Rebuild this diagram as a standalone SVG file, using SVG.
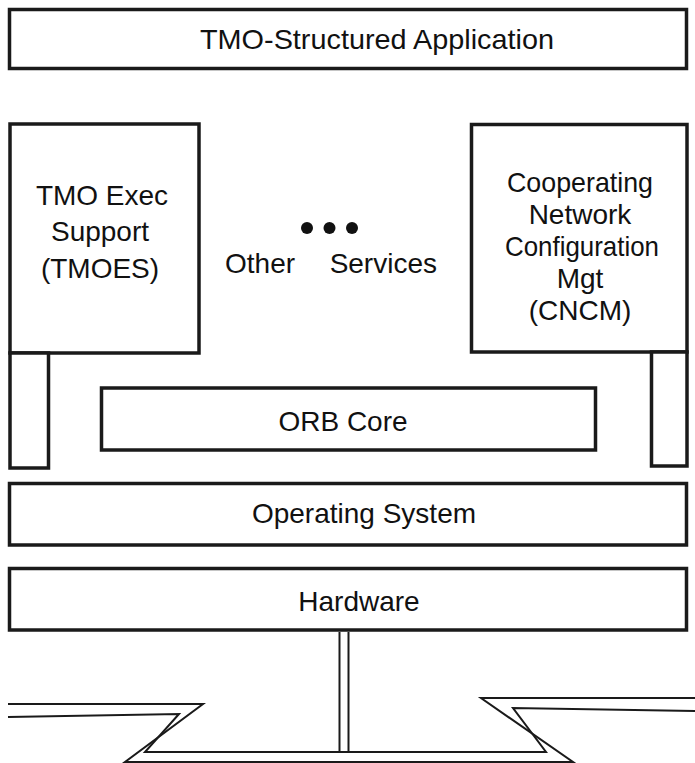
<svg xmlns="http://www.w3.org/2000/svg" width="695" height="763" viewBox="0 0 695 763">
<style>
.box{fill:#fff;stroke:#1a1a1a;stroke-width:3.5}
.t{font-family:"Liberation Sans",Arial,sans-serif;font-size:28px;fill:#111}
.m{text-anchor:middle}
.net{fill:none;stroke:#1a1a1a;stroke-width:2;stroke-linejoin:miter}
</style>
<rect width="695" height="763" fill="#fff"/>
<g id="app">
<rect class="box" x="9.5" y="9.5" width="677" height="59"/>
<text class="t" x="200" y="49" textLength="354" lengthAdjust="spacingAndGlyphs" font-size="28.5">TMO-Structured Application</text>
</g>
<g id="tmoes">
<rect class="box" x="10" y="124" width="189" height="229"/>
<rect class="box" x="10" y="353" width="38.5" height="115"/>
<text class="t m" x="102" y="205">TMO Exec</text>
<text class="t m" x="100" y="241">Support</text>
<text class="t m" x="100" y="278">(TMOES)</text>
</g>
<g id="other">
<circle cx="307" cy="228" r="6" fill="#111"/>
<circle cx="329.5" cy="228" r="6" fill="#111"/>
<circle cx="352" cy="228" r="6" fill="#111"/>
<text class="t" x="225" y="273" font-size="30">Other</text>
<text class="t" x="437" y="273" font-size="30" text-anchor="end">Services</text>
</g>
<g id="cncm">
<rect class="box" x="471.5" y="124.5" width="215.5" height="227.5"/>
<rect class="box" x="651.5" y="352" width="35.5" height="114"/>
<text class="t m" x="580" y="192" textLength="146" lengthAdjust="spacingAndGlyphs">Cooperating</text>
<text class="t m" x="580" y="224">Network</text>
<text class="t m" x="582" y="256" textLength="154" lengthAdjust="spacingAndGlyphs">Configuration</text>
<text class="t m" x="580" y="288">Mgt</text>
<text class="t m" x="580" y="320">(CNCM)</text>
</g>
<g id="orb">
<rect class="box" x="101.5" y="388" width="494" height="62"/>
<text class="t m" x="343" y="431" font-size="27">ORB Core</text>
</g>
<g id="os">
<rect class="box" x="9.5" y="483.5" width="677" height="61.5"/>
<text class="t m" x="364" y="523">Operating System</text>
</g>
<g id="hw">
<rect class="box" x="9.5" y="568.5" width="677" height="61.5"/>
<text class="t m" x="359" y="611">Hardware</text>
</g>
<g id="connectors">
<path class="net" d="M8,704 L203,704 L125,762 L573,762 L481,698 L695,698"/>
<path class="net" d="M8,717 L179,714 L145,752 L546,752 L513,708 L695,711"/>
<line class="net" x1="339.5" y1="632" x2="339.5" y2="752"/>
<line class="net" x1="348.5" y1="632" x2="348.5" y2="752"/>
</g>
</svg>
